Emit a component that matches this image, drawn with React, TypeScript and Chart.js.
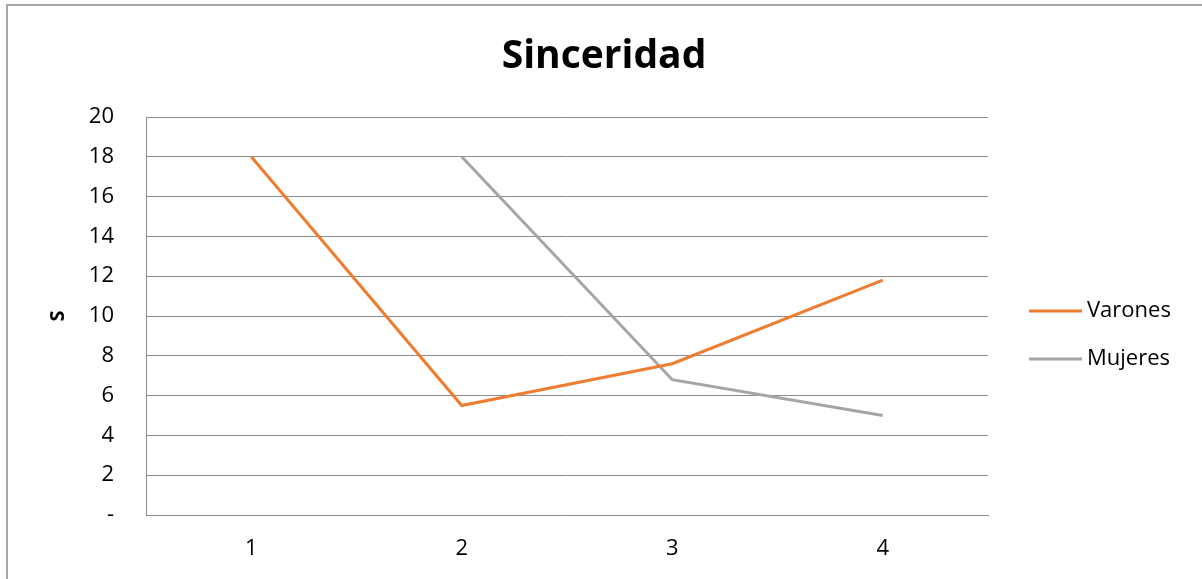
import React, { useEffect, useRef } from "react";
import { Chart, registerables } from "chart.js";

Chart.register(...registerables);

const categories = ["1", "2", "3", "4"];
const varones = [18, 5.5, 7.6, 11.8];
const mujeres = [null, 18, 6.8, 5.0];
const yTicks = [0, 2, 4, 6, 8, 10, 12, 14, 16, 18, 20];
const chartTitle = "Sinceridad";
const yTitle = "S";
const seriesNames = ["Varones", "Mujeres"];
const seriesColors = ["#ED7D31", "#A5A5A5"];

const FONT = "'Open Sans', 'Liberation Sans', sans-serif";

const decorPlugin = {
  id: "decor",
  afterDraw(chart: any) {
    const ctx = chart.ctx;
    const area = chart.chartArea;
    ctx.save();
    // Title
    ctx.fillStyle = "#000";
    ctx.font = `bold 39px ${FONT}`;
    ctx.textAlign = "center";
    ctx.textBaseline = "alphabetic";
    ctx.fillText(chartTitle, 604, 68);
    // Legend
    const cy = (area.top + area.bottom) / 2;
    const rows = [cy - 5, cy + 43];
    chart.data.datasets.forEach((ds: any, i: number) => {
      const y = rows[i];
      ctx.strokeStyle = ds.borderColor;
      ctx.lineWidth = 3;
      ctx.beginPath();
      ctx.moveTo(area.right + 41, y);
      ctx.lineTo(area.right + 94, y);
      ctx.stroke();
      ctx.fillStyle = "#000";
      ctx.font = `22px ${FONT}`;
      ctx.textAlign = "left";
      ctx.textBaseline = "middle";
      ctx.fillText(ds.label, area.right + 99, y);
    });
    ctx.restore();
  },
};

export default function App() {
  const ref = useRef<HTMLCanvasElement>(null);
  useEffect(() => {
    document.body.style.margin = "0";
    const chart = new Chart(ref.current!, {
      type: "line",
      data: {
        labels: categories,
        datasets: [
          {
            label: seriesNames[0],
            data: varones,
            borderColor: seriesColors[0],
            backgroundColor: seriesColors[0],
            borderWidth: 3,
            pointRadius: 0,
            tension: 0,
          },
          {
            label: seriesNames[1],
            data: mujeres,
            borderColor: seriesColors[1],
            backgroundColor: seriesColors[1],
            borderWidth: 3,
            pointRadius: 0,
            tension: 0,
          },
        ],
      },
      options: {
        animation: false,
        responsive: false,
        layout: { padding: { top: 117, right: 214, left: 0, bottom: 0 } },
        plugins: {
          legend: { display: false },
          title: { display: false },
          tooltip: { enabled: false },
        },
        scales: {
          x: {
            offset: true,
            grid: { display: false, drawTicks: false },
            border: { display: true, color: "#8C8C8C", width: 1 },
            ticks: {
              color: "#000",
              font: { family: FONT, size: 22 },
              padding: 21,
            },
            afterFit(scale: any) {
              scale.height = 64;
            },
          },
          y: {
            min: 0,
            max: 20,
            afterBuildTicks(scale: any) {
              scale.ticks = yTicks.map((v) => ({ value: v }));
            },
            grid: { color: "#8C8C8C", lineWidth: 1, drawTicks: false },
            border: { display: true, color: "#8C8C8C", width: 1 },
            ticks: {
              color: "#000",
              font: { family: FONT, size: 22 },
              padding: 32,
              callback: (v: any) => (Number(v) === 0 ? "-" : String(v)),
            },
            title: {
              display: true,
              text: yTitle,
              color: "#000",
              font: { family: FONT, size: 20, weight: "bold" },
              padding: { top: 46, bottom: 0 },
            },
            afterFit(scale: any) {
              scale.width = 146;
            },
          },
        },
      } as any,
      plugins: [decorPlugin],
    });
    return () => chart.destroy();
  }, []);

  return (
    <div style={{ position: "relative", width: 1202, height: 579, overflow: "hidden", background: "#fff" }}>
      <canvas ref={ref} width={1202} height={579} style={{ display: "block" }} />
      <div
        style={{
          position: "absolute",
          left: 6,
          top: 4,
          width: 1400,
          height: 800,
          border: "2px solid #A6A6A6",
          pointerEvents: "none",
        }}
      />
    </div>
  );
}
